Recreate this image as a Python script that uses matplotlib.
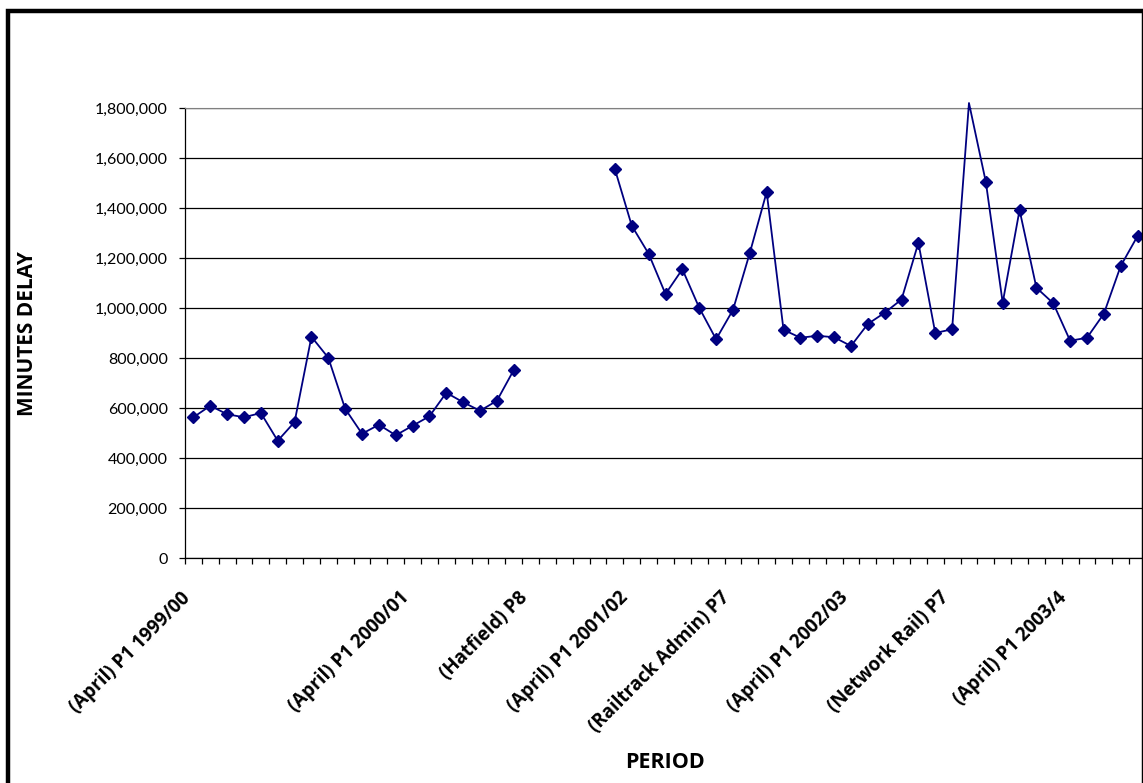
import numpy as np
import matplotlib
matplotlib.use("Agg")
import matplotlib.pyplot as plt
from matplotlib.patches import Rectangle
from matplotlib.ticker import FuncFormatter, FixedLocator

# Railway periods: 13 four-week periods per financial year
years = ["1999/00", "2000/01", "2001/02", "2002/03", "2003/4"]
periods = [f"P{p} {y}" for y in years for p in range(1, 14)][:57]

# Only selected periods carry an axis label
period_labels = {
    "P1 1999/00": "(April) P1 1999/00",
    "P1 2000/01": "(April) P1 2000/01",
    "P8 2000/01": "(Hatfield) P8",
    "P1 2001/02": "(April) P1 2001/02",
    "P7 2001/02": "(Railtrack Admin) P7",
    "P1 2002/03": "(April) P1 2002/03",
    "P7 2002/03": "(Network Rail) P7",
    "P1 2003/4": "(April) P1 2003/4",
}

# Minutes of delay per period (None = no data reported)
delay_1999_2000 = [563000, 609000, 575000, 563000, 580000, 469000, 544000,
                   885000, 801000, 597000, 497000, 533000, 491000,
                   529000, 567000, 661000, 623000, 589000, 629000, 752000]
delay_gap = [None, None, None, None, None]
delay_2001_2003 = [1555000, 1329000, 1217000, 1056000, 1155000, 1001000,
                   875000, 992000, 1220000, 1464000, 913000, 881000, 889000,
                   883000, 848000, 936000, 981000, 1034000, 1261000, 900000,
                   915000, 1820000, 1504000, 1021000, 1392000, 1081000,
                   1019000, 869000, 881000, 977000, 1168000, 1288000]
delays = delay_1999_2000 + delay_gap + delay_2001_2003

y_ticks = [0, 200000, 400000, 600000, 800000, 1000000, 1200000, 1400000,
           1600000, 1800000]

W, H = 1143, 783
fig = plt.figure(figsize=(W / 100, H / 100), dpi=100)
fig.patch.set_facecolor("white")

# Chart border
fig.patches.append(Rectangle((7.5 / W, -10 / H), (1144 - 7.5) / W,
                             (H - 10.5 + 10) / H, transform=fig.transFigure,
                             fill=False, edgecolor="black", linewidth=3.2,
                             clip_on=False))

left, right, bottom, top = 185, 1146, 558, 108
ax = fig.add_axes([left / W, (H - bottom) / H, (right - left) / W,
                   (bottom - top) / H])

x = np.arange(len(periods))
y = np.array([np.nan if v is None else v for v in delays], dtype=float)

line_color = "#000080"
ax.plot(x, y, color=line_color, linewidth=1.3, clip_on=False, zorder=3)
ax.plot(x, y, linestyle="none", marker="D", markersize=6.2,
        color=line_color, clip_on=True, zorder=4)

ax.set_xlim(-0.5, len(periods) - 0.5)
ax.set_ylim(0, 1800000)

num_font = "Lato"
bold_font = "Open Sans"
ax.yaxis.set_major_locator(FixedLocator(y_ticks))
ax.yaxis.set_major_formatter(FuncFormatter(lambda v, p: f"{int(v):,}"))
ax.yaxis.grid(True, color="black", linewidth=0.9)
ax.set_axisbelow(True)
for lbl in ax.get_yticklabels():
    lbl.set_fontfamily(num_font)
    lbl.set_fontsize(11.5)
ax.tick_params(axis="y", direction="out", length=4.5, width=0.9, pad=8,
               colors="black")

# Tick marks between categories, labels placed separately
ax.xaxis.set_major_locator(FixedLocator(np.arange(len(periods) + 1) - 0.5))
ax.set_xticklabels([])
ax.tick_params(axis="x", direction="out", length=4.5, width=0.9)

for i, p in enumerate(periods):
    if p in period_labels:
        ax.annotate(period_labels[p], xy=(i, 0),
                    xycoords=("data", "axes fraction"),
                    xytext=(-6, -37), textcoords="offset pixels",
                    rotation=45, rotation_mode="anchor", ha="right",
                    va="center", fontsize=13.5, fontweight="bold",
                    fontfamily=bold_font)

ax.spines["top"].set_color("#808080")
ax.spines["right"].set_visible(False)
for s in ("left", "bottom"):
    ax.spines[s].set_color("black")
    ax.spines[s].set_linewidth(0.9)

fig.text(28 / W, 1 - 334 / H, "MINUTES DELAY", rotation=90, ha="center",
         va="center", fontsize=15, fontweight="bold", fontfamily=bold_font)
fig.text(665 / W, 1 - 762 / H, "PERIOD", ha="center", va="center",
         fontsize=15.5, fontweight="bold", fontfamily=bold_font)

fig.savefig("out.png", dpi=100)
